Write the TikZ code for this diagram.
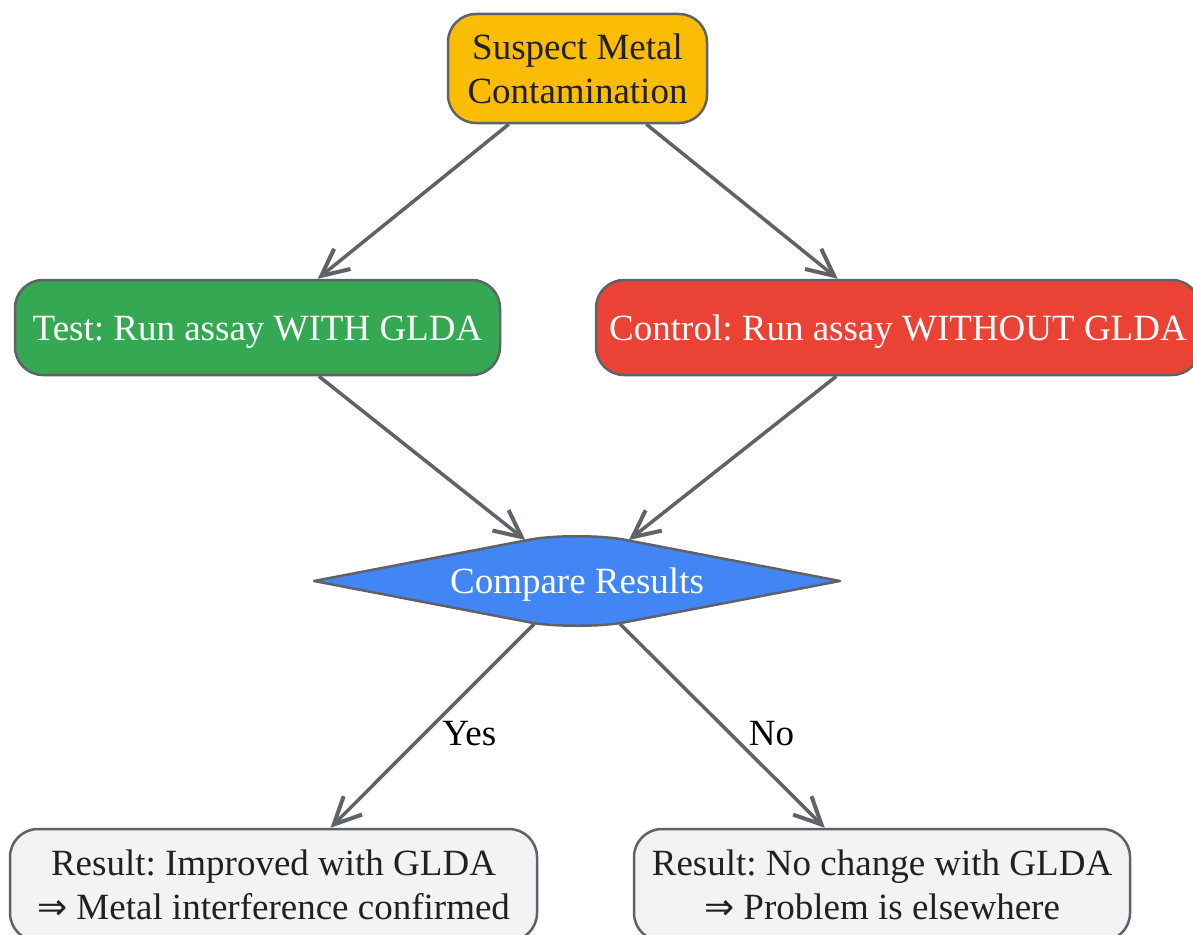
\documentclass[tikz,border=0pt]{standalone}
\usepackage{fontspec}
\setmainfont{Liberation Serif}
\newfontfamily\arrfont{DejaVu Sans}
\usetikzlibrary{arrows.meta,shapes.geometric}
\definecolor{edgegray}{HTML}{5F6368}
\definecolor{txtdark}{HTML}{202124}
\definecolor{cyellow}{HTML}{FBBC04}
\definecolor{cgreen}{HTML}{34A853}
\definecolor{cred}{HTML}{EA4335}
\definecolor{cblue}{HTML}{4285F4}
\definecolor{cgray}{HTML}{F1F3F4}
\newcommand{\impl}{{\arrfont\fontsize{36}{44}\selectfont ⇒}}
\tikzset{
  box/.style={draw=edgegray, line width=2.5pt, rounded corners=28pt, inner sep=0pt,
    align=center, font=\fontsize{37}{44}\selectfont},
  oneline/.style={text height=25pt, text depth=0pt},
  decide/.style={diamond, aspect=5.26, draw=none, inner sep=0pt, outer sep=1pt,
    align=center, font=\fontsize{37}{44}\selectfont},
  decideshape/.style={fill=cblue, draw=edgegray, line width=2.5pt, line join=round},
  conn/.style={draw=edgegray, line width=3.5pt, -{Straight Barb[length=27pt,width=26pt,line width=4pt]}},
  lbl/.style={font=\fontsize{37}{44}\selectfont, text=black, inner sep=0pt}
}
\begin{document}
\frenchspacing
\begin{tikzpicture}[x=1pt,y=-1pt]
\useasboundingbox (0,0) rectangle (1193,934);
\clip (0,0) rectangle (1193,934);
\fill[white] (0,0) rectangle (1193,934);
\node[box, fill=cyellow, text=txtdark, minimum width=259pt, minimum height=109pt] (top) at (577.5,68.5)
  {Suspect Metal\\Contamination};
\node[box, oneline, fill=cgreen, text=white, minimum width=485pt, minimum height=95pt] (test) at (257.5,327.5)
  {Test: Run assay WITH GLDA};
\node[box, oneline, fill=cred, text=white, minimum width=604pt, minimum height=95pt] (ctrl) at (898,327.5)
  {Control: Run assay WITHOUT GLDA};
\path[decideshape] (314,581) -- (528,540) .. controls (552,535) and (602,535) .. (626,540) -- (840,581)
  -- (626,622) .. controls (602,627) and (552,627) .. (528,622) -- cycle;
\node[decide, oneline, text=white, minimum width=526pt, minimum height=100pt] (cmp) at (577,581)
  {Compare Results};
\node[box, fill=cgray, text=txtdark, minimum width=527pt, minimum height=112pt] (ok) at (273.5,885)
  {Result: Improved with GLDA\\\impl{} Metal interference confirmed};
\node[box, fill=cgray, text=txtdark, minimum width=496pt, minimum height=112pt] (no) at (882,885)
  {Result: No change with GLDA\\\impl{} Problem is elsewhere};
\draw[conn] (top) -- (test);
\draw[conn] (top) -- (ctrl);
\draw[conn] (test) -- (cmp);
\draw[conn] (ctrl) -- (cmp);
\draw[conn] (cmp) -- node[lbl, pos=0.54, xshift=45pt] {Yes} (ok);
\draw[conn] (cmp) -- node[lbl, pos=0.54, xshift=41pt] {No} (no);
\end{tikzpicture}
\end{document}
